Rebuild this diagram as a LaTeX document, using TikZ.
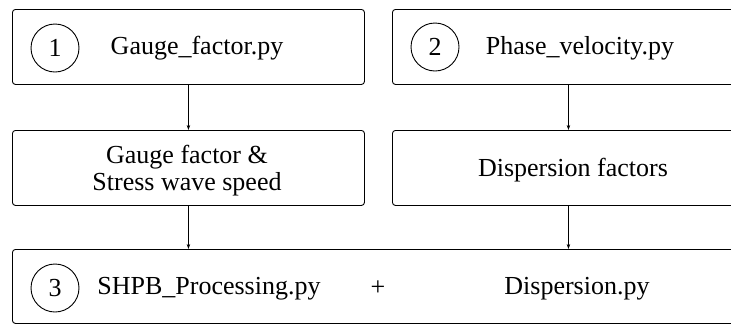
\documentclass[tikz,border=0pt]{standalone}
\usepackage{fontspec}
\setmainfont{Liberation Serif}
\usetikzlibrary{arrows.meta}
\begin{document}
\begin{tikzpicture}[x=1pt,y=-1pt,
  box/.style={draw, line width=0.9pt, rounded corners=3pt, inner sep=0pt, anchor=north west},
  num/.style={draw, circle, line width=0.9pt, minimum size=48pt, inner sep=0pt, font=\fontsize{26}{27}\selectfont},
  lbl/.style={font=\fontsize{26}{27}\selectfont, inner sep=0pt, align=center},
  arr/.style={-{Stealth[length=5pt,width=3.5pt]}, line width=0.7pt}]
\useasboundingbox (0,0) rectangle (731,325);
% boxes
\node[box, minimum width=352pt, minimum height=75pt] (b1) at (12,9) {};
\node[box, minimum width=352pt, minimum height=75pt] (b2) at (392,9) {};
\node[box, minimum width=352pt, minimum height=75pt] (b3) at (12,130) {};
\node[box, minimum width=352pt, minimum height=75pt] (b4) at (392,130) {};
\node[box, minimum width=740pt, minimum height=74pt] (b5) at (12,249) {};
% circles
\node[num] (c1) at (55,48) {1};
\node[num] (c2) at (435,47) {2};
\node[num] (c3) at (55,288) {3};
% labels
\node[lbl] (t1) at (197,48) {Gauge\_factor.py};
\node[lbl] (t2) at (580,48) {Phase\_velocity.py};
\node[lbl] (t3) at (187,171) {Gauge factor \&\\Stress wave speed};
\node[lbl] (t4) at (573,170) {Dispersion factors};
\node[lbl] (t5) at (209,289) {SHPB\_Processing.py};
\node[lbl] (t6) at (378,288) {+};
\node[lbl] (t7) at (577,289) {Dispersion.py};
% arrows
\draw[arr] (b1.south) -- (b3.north);
\draw[arr] (b2.south) -- (b4.north);
\draw[arr] (b3.south) -- (b3.south |- b5.north);
\draw[arr] (b4.south) -- (b4.south |- b5.north);
\end{tikzpicture}
\end{document}
